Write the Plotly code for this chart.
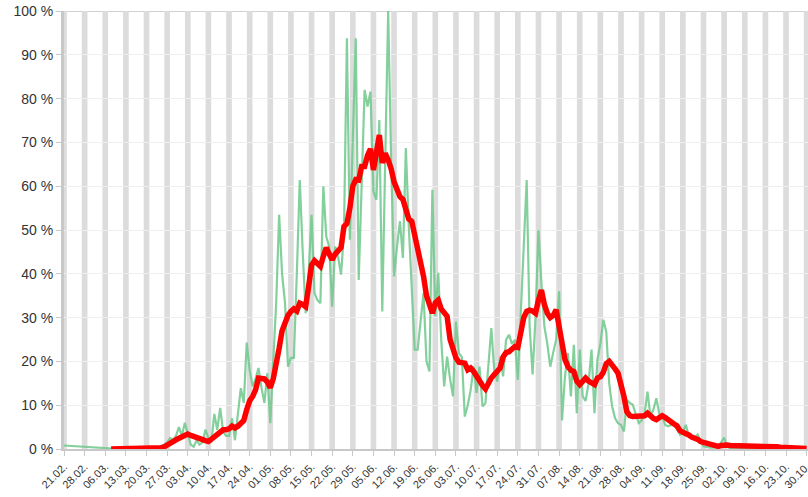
import pandas as pd
import plotly.graph_objects as go

start_date = "2020-02-21"

# daily share (%) – thin green line, from 21.02.2020
green_vals = [
    0.8, 0.75, 0.7, 0.65, 0.6, 0.55, 0.5,
    0.45, 0.4, 0.35, 0.3, 0.25, 0.2, 0.15,
    0.1, 0.05, 0.05, 0.05, 0.05, 0.05, 0.05,
    0.05, 0.05, 0.05, 0.05, 0.05, 0.05, 0.05,
    0.05, 0.1, 0.1, 0.2, 0.3, 0.5, 1.0,
    1.5, 2.5, 2.0, 3.0, 5.0, 3.0, 6.0,
    3.5, 1.0, 0.5, 2.0, 1.0, 1.5, 4.4,
    2.5, 1.5, 8.0, 4.4, 9.4, 4.0, 3.0,
    3.0, 7.0, 2.0, 8.0, 13.9, 10.5, 24.3,
    18.0, 14.3, 16.0, 18.5, 14.0, 10.5, 17.3,
    5.9, 20.0, 33.3, 53.5, 40.0, 33.3, 18.8,
    20.8, 20.8, 40.0, 61.4, 45.0, 31.0, 40.0,
    53.5, 35.6, 34.0, 33.3, 60.0, 48.5, 46.2,
    32.5, 46.2, 43.9, 39.8, 49.3, 93.8, 47.8,
    69.8, 93.8, 38.6, 60.0, 82.0, 78.2, 81.6,
    58.8, 56.9, 75.1, 31.4, 66.0, 100.0, 66.0,
    39.4, 46.2, 52.0, 43.6, 68.7, 50.8, 36.0,
    22.7, 22.7, 30.0, 35.6, 20.0, 17.7, 59.2,
    30.3, 40.2, 25.0, 14.3, 21.1, 16.0, 12.0,
    29.1, 21.9, 21.0, 7.4, 10.0, 13.5, 18.8,
    12.8, 18.8, 9.7, 10.5, 20.0, 27.6, 18.0,
    15.4, 21.1, 16.6, 24.9, 26.1, 24.0, 24.9,
    15.8, 31.8, 45.0, 61.4, 28.0, 17.0, 30.0,
    50.0, 37.9, 28.0, 24.0, 18.8, 22.0, 25.0,
    36.0, 6.5, 16.6, 21.9, 12.0, 23.8, 8.2,
    22.7, 12.0, 11.0, 15.0, 22.7, 8.2, 20.4,
    24.0, 29.5, 26.8, 15.0, 9.7, 7.0, 5.9,
    5.5, 4.0, 11.2, 10.5, 10.1, 8.0, 5.9,
    6.5, 8.0, 13.1, 7.4, 9.0, 11.6, 8.0,
    7.4, 5.5, 5.2, 5.5, 5.5, 4.5, 3.3,
    4.0, 5.5, 3.0, 2.9, 2.5, 3.3, 2.0,
    0.6, 0.5, 0.3, 0.3, 0.3, 0.5, 1.5,
    2.6, 0.5, 0.2, 0.2, 0.2, 0.2, 0.2,
    0.2, 0.2, 0.2, 0.2, 0.2, 0.2, 0.2,
    0.2, 0.1, 0.1, 0.1, 0.1, 0.1, 0.1,
]

# 7-day average (%) – thick red line, from 08.03.2020
red_start = "2020-03-08"
red_vals = [
    0.0, 0.0, 0.0, 0.0, 0.0, 0.0, 0.0, 0.0, 0.0, 0.0,
    0.0, 0.0, 0.0, 0.0, 0.0, 0.05, 0.1, 0.3, 0.5, 0.8,
    1.2, 1.7, 2.1, 2.5, 2.9, 3.2, 3.4, 3.1, 2.8, 2.6,
    2.3, 2.1, 1.9, 1.7, 2.3, 2.8, 3.3, 3.9, 4.4, 4.4,
    4.6, 5.2, 4.8, 5.2, 5.8, 6.5, 9.0, 11.0, 12.0, 13.5,
    16.2, 16.2, 16.0, 15.3, 14.0, 16.0, 19.0, 23.0, 27.0, 29.0,
    30.5, 31.4, 32.0, 31.5, 33.3, 33.0, 32.5, 37.0, 42.0, 43.0,
    42.5, 41.7, 44.0, 46.0, 44.5, 43.2, 44.5, 45.5, 46.0, 50.8,
    51.5, 55.0, 60.0, 61.5, 61.4, 64.5, 64.5, 67.0, 68.5, 63.7,
    68.3, 71.7, 65.3, 67.5, 66.0, 64.0, 61.0, 59.0, 57.6, 57.0,
    55.0, 52.5, 52.0, 49.0, 45.5, 42.0, 39.4, 35.0, 33.4, 31.0,
    33.4, 34.0, 32.0, 31.0, 30.3, 25.0, 22.5, 20.8, 19.8, 19.6,
    19.6, 18.1, 18.5, 17.7, 16.5, 15.8, 14.5, 13.7, 15.2, 16.2,
    17.0, 17.6, 18.5, 21.0, 22.0, 22.2, 22.8, 23.4, 23.2, 26.0,
    30.0, 31.4, 31.7, 31.5, 31.0, 34.0, 36.3, 33.0, 31.0, 30.0,
    30.5, 31.8, 28.0, 22.7, 20.4, 18.8, 18.0, 17.7, 15.5, 14.7,
    15.5, 16.2, 15.5, 15.2, 14.7, 16.2, 16.5, 17.5, 19.5, 20.0,
    19.3, 18.3, 17.3, 15.0, 12.0, 8.5, 7.6, 7.4, 7.4, 7.4,
    7.5, 7.6, 8.2, 7.4, 7.0, 6.7, 7.2, 7.6, 7.2, 6.6,
    6.0, 5.7, 5.3, 4.2, 3.8, 3.6, 3.2, 2.7, 2.5, 2.2,
    1.7, 1.5, 1.4, 1.1, 0.9, 0.7, 0.6, 0.8, 1.0, 0.9,
    0.8, 0.8, 0.8, 0.8, 0.8, 0.8, 0.8, 0.8, 0.8, 0.8,
    0.7, 0.6, 0.6, 0.6, 0.6, 0.5, 0.5, 0.4, 0.4, 0.3,
    0.3, 0.3, 0.2, 0.2, 0.2, 0.1, 0.1,
]

tick_dates = pd.date_range("2020-02-21", "2020-10-30", freq="7D")
y_ticks = list(range(0, 101, 10))
y_labels = [f"{v} %" for v in y_ticks]

green_x = pd.date_range(start_date, periods=len(green_vals), freq="D")
red_x = pd.date_range(red_start, periods=len(red_vals), freq="D")

fig = go.Figure()
fig.add_trace(go.Scatter(x=green_x, y=green_vals, mode="lines",
                         line=dict(color="rgba(110,200,140,0.85)", width=2.2),
                         hoverinfo="skip", showlegend=False))
fig.add_trace(go.Scatter(x=red_x, y=red_vals, mode="lines",
                         line=dict(color="#ff0000", width=5.5),
                         hoverinfo="skip", showlegend=False))

shapes = []
for t in tick_dates:
    shapes.append(dict(type="rect", xref="x", yref="y",
                       x0=t - pd.Timedelta(hours=23), x1=t + pd.Timedelta(hours=23),
                       y0=0, y1=100, fillcolor="#dcdcdc", line=dict(width=0),
                       layer="below"))
shapes.append(dict(type="line", xref="paper", yref="y", x0=0, x1=1, y0=100, y1=100,
                   line=dict(color="#d0d0d0", width=2), layer="below"))
fig.update_layout(shapes=shapes)

fig.update_layout(
    width=808, height=497,
    margin=dict(l=64, r=0, t=11, b=48, autoexpand=False),
    paper_bgcolor="white", plot_bgcolor="white",
    font=dict(family="Liberation Sans, Arial, sans-serif", color="#333333"),
    xaxis=dict(
        range=[pd.Timestamp("2020-02-21"), pd.Timestamp("2020-10-30 11:00")],
        tickvals=tick_dates, tickformat="%d.%m.", tickangle=-45,
        tickfont=dict(size=11, color="#333333"),
        showgrid=False, zeroline=False, automargin=False,
        ticklabeloverflow="allow",
        showline=True, linecolor="#c8c8c8", linewidth=2,
        ticks="outside", ticklen=5, tickcolor="#c8c8c8", tickwidth=1,
    ),
    yaxis=dict(
        range=[0, 100], tickvals=y_ticks, ticktext=y_labels,
        tickfont=dict(size=14, color="#333333"),
        showgrid=True, gridcolor="#eeeeee", gridwidth=1, zeroline=False,
        automargin=False, ticklabeloverflow="allow",
        showline=True, linecolor="#c8c8c8", linewidth=3,
        ticks="outside", ticklen=5, tickcolor="#c8c8c8", tickwidth=1,
    ),
)

# remove the browser's default 8px body margin so the figure fills the window
fig.write_html("out.html", config={"displayModeBar": False},
               post_script="document.body.style.margin='0';")
